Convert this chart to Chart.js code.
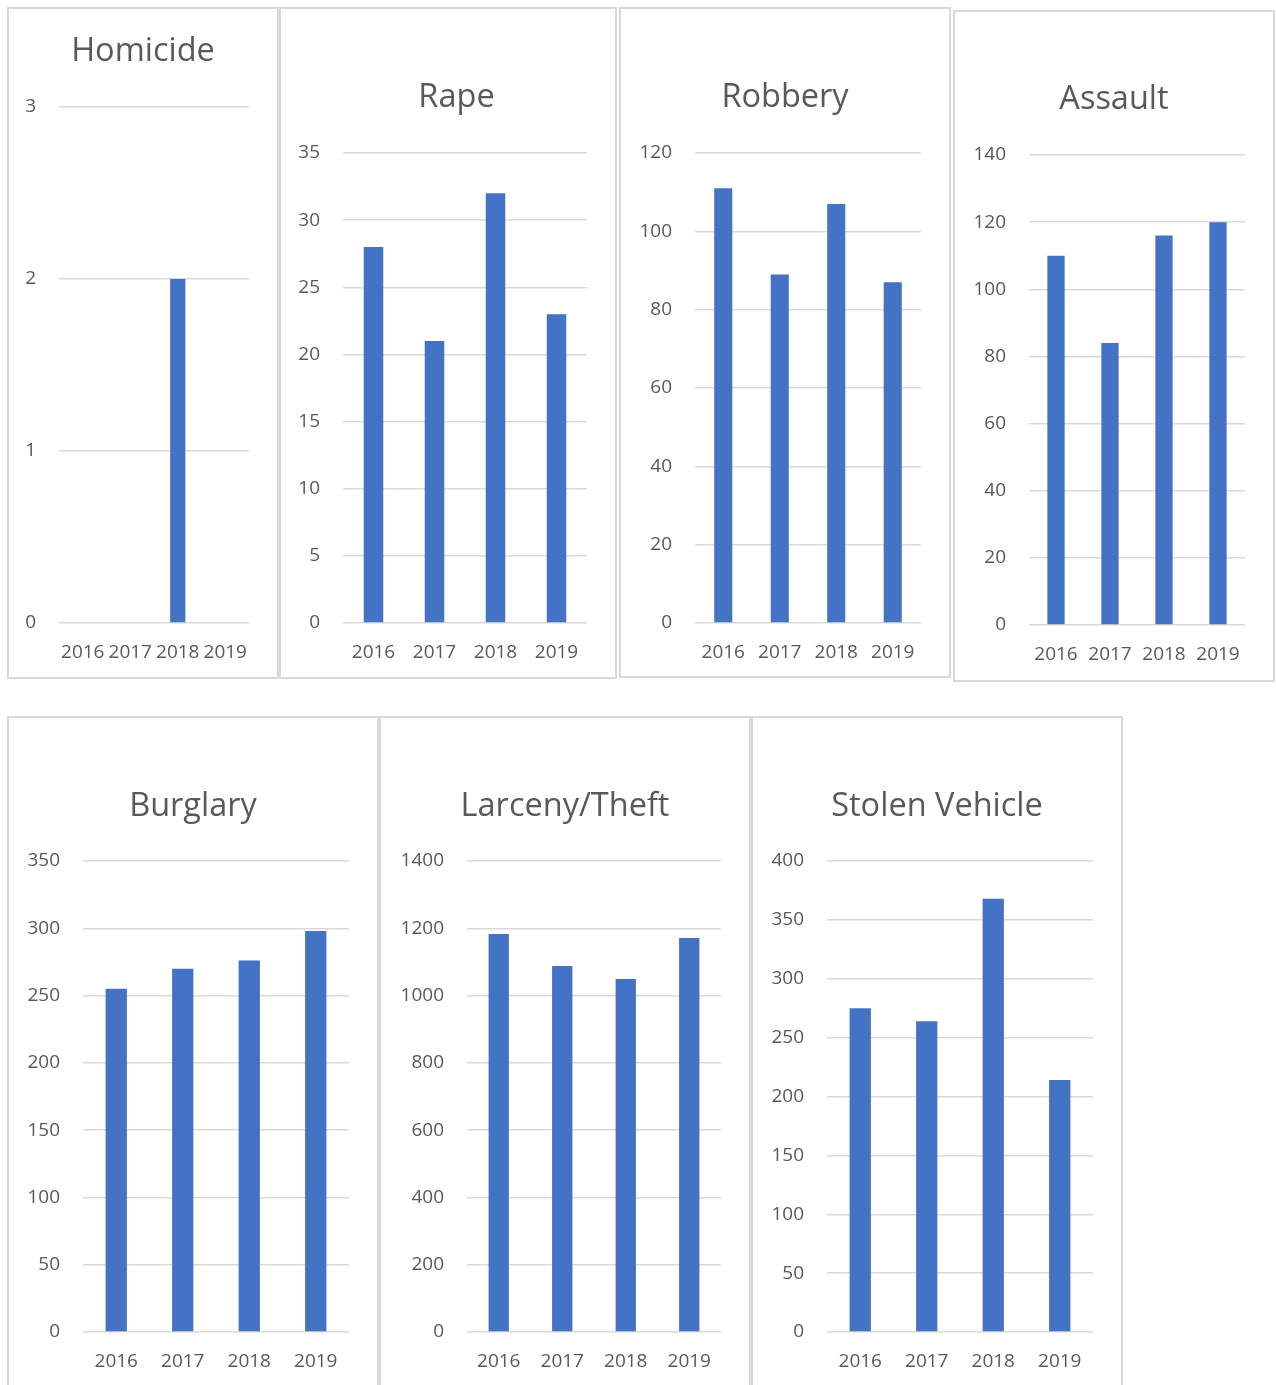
<!DOCTYPE html>
<html>
<head>
<meta charset="utf-8">
<title>Crimes by year</title>
<script src="https://cdn.jsdelivr.net/npm/chart.js@4"></script>
<style>
  body { margin: 0; background: #fff; width: 1276px; height: 1385px; overflow: hidden; position: relative; }
  .panel { position: absolute; }
  .panel canvas { position: absolute; left: 0; top: 0; }
  .frame { position: absolute; left: 0; top: 0; right: 0; bottom: 0; border: 2px solid #d9d9d9; box-sizing: border-box; pointer-events: none; }
</style>
</head>
<body>
<script>
// data
const years = ['2016', '2017', '2018', '2019'];
const homicide = [0, 0, 2, 0];
const rape = [28, 21, 32, 23];
const robbery = [111, 89, 107, 87];
const assault = [110, 84, 116, 120];
const burglary = [255, 270, 276, 298];
const larceny = [1183, 1088, 1049, 1171];
const stolenVehicle = [275, 264, 368, 214];

const titles = ['Homicide', 'Rape', 'Robbery', 'Assault', 'Burglary', 'Larceny/Theft', 'Stolen Vehicle'];
const series = [homicide, rape, robbery, assault, burglary, larceny, stolenVehicle];
const axisMax = [3, 35, 120, 140, 350, 1400, 400];
const axisStep = [1, 5, 20, 20, 50, 200, 50];

// panel boxes and plot areas, page pixels
const panels = [
  { x: 7,   y: 7,   w: 272, h: 672, plotL: 59,   plotR: 249,  plotT: 107, plotB: 623,  titleY: 52,  padL: 0 },
  { x: 279, y: 7,   w: 338, h: 672, plotL: 343,  plotR: 587,  plotT: 153, plotB: 623,  titleY: 98,  padL: 17 },
  { x: 619, y: 7,   w: 332, h: 671, plotL: 695,  plotR: 921,  plotT: 153, plotB: 623,  titleY: 98,  padL: 0 },
  { x: 953, y: 10,  w: 322, h: 672, plotL: 1029, plotR: 1245, plotT: 155, plotB: 625,  titleY: 100, padL: 0 },
  { x: 7,   y: 716, w: 372, h: 680, plotL: 83,   plotR: 349,  plotT: 861, plotB: 1332, titleY: 807, padL: 0 },
  { x: 379, y: 716, w: 372, h: 680, plotL: 467,  plotR: 721,  plotT: 861, plotB: 1332, titleY: 807, padL: 0 },
  { x: 751, y: 716, w: 372, h: 680, plotL: 827,  plotR: 1093, plotT: 861, plotB: 1332, titleY: 807, padL: 0 }
];

const textColor = '#595959';
const fontFamily = "'Open Sans', sans-serif";
const titleSize = 32.5;
const tickSize = 19;
const xAxisH = 50;

panels.forEach((p, i) => {
  const div = document.createElement('div');
  div.className = 'panel';
  div.style.left = p.x + 'px';
  div.style.top = p.y + 'px';
  div.style.width = p.w + 'px';
  div.style.height = p.h + 'px';
  const canvas = document.createElement('canvas');
  canvas.width = p.w;
  canvas.height = p.h;
  canvas.style.width = p.w + 'px';
  canvas.style.height = p.h + 'px';
  div.appendChild(canvas);
  const frame = document.createElement('div');
  frame.className = 'frame';
  div.appendChild(frame);
  document.body.appendChild(div);

  const half = titleSize * 1.2 / 2;
  const yWidth = p.plotL - p.x - p.padL;
  const rightWidth = p.x + p.w - p.plotR;

  new Chart(canvas.getContext('2d'), {
    type: 'bar',
    data: {
      labels: years,
      datasets: [{
        data: series[i],
        backgroundColor: '#4472c4',
        borderWidth: 0,
        categoryPercentage: 1,
        barPercentage: 0.32
      }]
    },
    options: {
      responsive: false,
      animation: false,
      devicePixelRatio: 1,
      layout: {
        padding: {
          left: p.padL,
          right: 0,
          top: p.titleY - half - p.y,
          bottom: p.y + p.h - p.plotB - xAxisH
        }
      },
      plugins: {
        legend: { display: false },
        tooltip: { enabled: false },
        title: {
          display: true,
          text: titles[i],
          color: textColor,
          font: { family: fontFamily, size: titleSize, weight: 'normal', lineHeight: 1.2 },
          padding: { top: 0, bottom: p.plotT - p.titleY - half }
        }
      },
      scales: {
        x: {
          grid: { display: false },
          border: { display: false },
          ticks: {
            color: textColor,
            font: { family: fontFamily, size: tickSize },
            padding: 10,
            maxRotation: 0,
            autoSkip: false
          },
          afterFit: s => { s.height = xAxisH; }
        },
        y: {
          min: 0,
          max: axisMax[i],
          border: { display: false },
          grid: { color: '#d9d9d9', lineWidth: 1.5, drawTicks: false },
          ticks: {
            stepSize: axisStep[i],
            color: textColor,
            font: { family: fontFamily, size: tickSize },
            padding: 23,
            callback: v => String(v)
          },
          afterFit: s => { s.width = yWidth; }
        },
        yR: {
          type: 'linear',
          position: 'right',
          grid: { display: false },
          border: { display: false },
          ticks: { display: false },
          afterFit: s => { s.width = rightWidth; }
        }
      }
    }
  });
});
</script>
</body>
</html>
